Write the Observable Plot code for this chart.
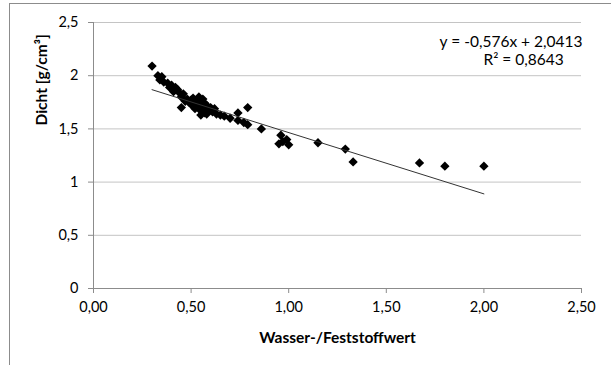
<!DOCTYPE html>
<html>
<head>
<meta charset="utf-8">
<script src="https://cdn.jsdelivr.net/npm/d3@7"></script>
<script src="https://cdn.jsdelivr.net/npm/@observablehq/plot@0.6"></script>
<style>
  html, body { margin: 0; padding: 0; background: #fff; }
  #wrap { position: relative; width: 611px; height: 365px; overflow: hidden; }
  #border { position: absolute; left: 9px; top: 3px; width: 700px; height: 400px;
            border-left: 1px solid #8c8c8c; border-top: 1px solid #8c8c8c; }
  #chart { position: absolute; left: 0; top: 0; }
</style>
</head>
<body>
<div id="wrap"><div id="border"></div><div id="chart"></div></div>
<script>
// Wasser-/Feststoffwert (x) and Dichte in g/cm³ (y), one entry per sample
const wf = [
  0.30, 0.33, 0.35, 0.34, 0.36, 0.38, 0.40, 0.39, 0.42, 0.43, 0.41, 0.44, 0.46, 0.45, 0.45,
  0.48, 0.47, 0.49, 0.50, 0.51, 0.50, 0.52, 0.53, 0.53, 0.54, 0.54, 0.55, 0.55, 0.56, 0.56,
  0.57, 0.57, 0.57, 0.58, 0.58, 0.59, 0.60, 0.60, 0.61, 0.62, 0.52, 0.55, 0.58, 0.63, 0.65,
  0.67, 0.70, 0.74, 0.74, 0.77, 0.79, 0.79, 0.86, 0.96, 0.95, 0.99, 1.00, 0.97,
  1.15, 1.29, 1.33, 1.67, 1.80, 2.00
];
const dichte = [
  2.09, 2.00, 1.99, 1.96, 1.94, 1.93, 1.91, 1.89, 1.89, 1.87, 1.85, 1.84, 1.83, 1.80, 1.70,
  1.78, 1.76, 1.75, 1.77, 1.79, 1.73, 1.74, 1.77, 1.72, 1.80, 1.70, 1.75, 1.67, 1.73, 1.78,
  1.71, 1.65, 1.74, 1.68, 1.72, 1.67, 1.70, 1.68, 1.66, 1.69, 1.69, 1.63, 1.64, 1.64, 1.63,
  1.62, 1.60, 1.65, 1.58, 1.56, 1.70, 1.54, 1.50, 1.44, 1.36, 1.40, 1.35, 1.38,
  1.37, 1.31, 1.19, 1.18, 1.15, 1.15
];

// linear trend line
const slope = -0.576;
const intercept = 2.0413;
const rSquared = 0.8643;

const xTicks = [0, 0.5, 1, 1.5, 2, 2.5];
const yTicks = [0, 0.5, 1, 1.5, 2, 2.5];

const points = wf.map((x, i) => ({x, y: dichte[i]}));
const [xMin, xMax] = d3.extent(wf);
const trend = [xMin, xMax].map(x => ({x, y: slope * x + intercept}));

const de = v => String(v).replace(".", ",");
const eqLine1 = `y = ${de(slope)}x + ${de(intercept)}`;
const eqLine2 = `R² = ${de(rSquared)}`;

const chart = Plot.plot({
  width: 611,
  height: 365,
  marginLeft: 93,
  marginRight: 30,
  marginTop: 22,
  marginBottom: 77,
  style: {fontFamily: "Lato, 'Open Sans', sans-serif", fontSize: "14.5px", color: "#000", background: "transparent"},
  x: {domain: [0, 2.5], ticks: xTicks},
  y: {domain: [0, 2.5], ticks: yTicks},
  marks: [
    Plot.gridY(yTicks, {stroke: "#c4c4c4", strokeOpacity: 1}),
    Plot.ruleX([0], {stroke: "#8c8c8c"}),
    Plot.ruleY([0], {stroke: "#8c8c8c"}),
    Plot.axisX(xTicks, {tickSize: 5, tickPadding: 8, stroke: "#8c8c8c", fill: "#000",
      tickFormat: d => d.toFixed(2).replace(".", ","), label: null}),
    Plot.axisY(yTicks, {tickSize: 5, tickPadding: 10, stroke: "#8c8c8c", fill: "#000",
      tickFormat: de, label: null}),
    Plot.dot(points, {x: "x", y: "y", symbol: "diamond2", r: 4.2, fill: "#000", stroke: "none"}),
    Plot.line(trend, {x: "x", y: "y", stroke: "#333", strokeWidth: 1}),
    // trend line equation and coefficient of determination
    Plot.text([eqLine1], {frameAnchor: "top-right", textAnchor: "end", lineAnchor: "middle", dx: 1, dy: 20, fontSize: 15.5}),
    Plot.text([eqLine2], {frameAnchor: "top-right", textAnchor: "start", lineAnchor: "middle", dx: -98, dy: 38, fontSize: 15.5}),
    Plot.text(["Wasser-/Feststoffwert"], {frameAnchor: "bottom", lineAnchor: "middle", dy: 50, fontWeight: "bold", fontSize: 15.5}),
    Plot.text(["Dicht [g/cm³]"], {frameAnchor: "left", lineAnchor: "middle", rotate: -90, dx: -51, dy: -30, fontWeight: "bold", fontSize: 15.5})
  ]
});
document.getElementById("chart").appendChild(chart);
</script>
</body>
</html>
